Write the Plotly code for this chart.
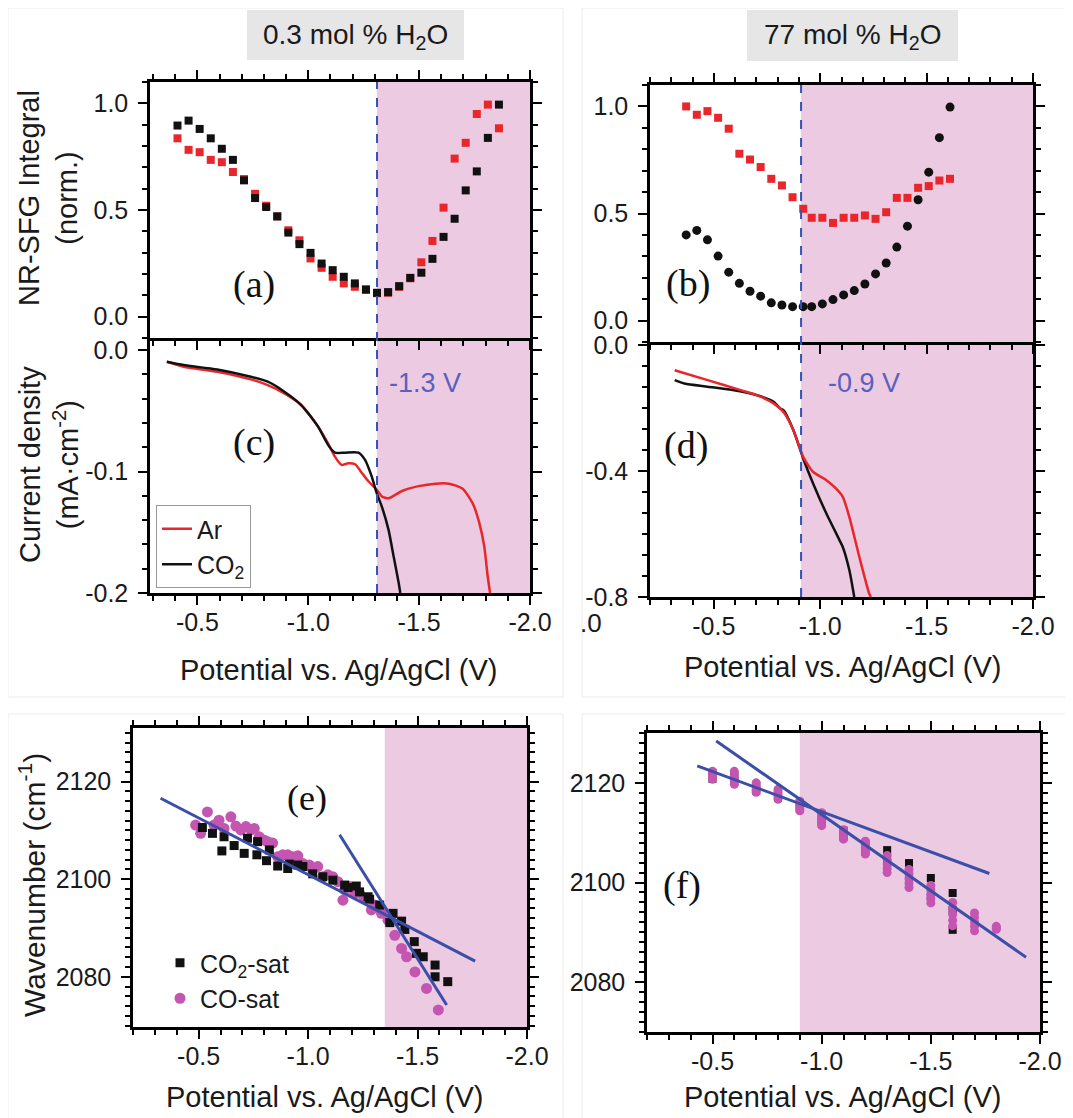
import plotly.graph_objects as go

W, H = 1073, 1118
OFF = 8  # page body margin offset
FONT = "Liberation Sans, Arial, sans-serif"
SERIF = "Liberation Serif, Times New Roman, serif"
RED = "#e8262b"
BLACK = "#111111"
MAG = "#c455b0"
BLUE = "#3b4ea8"
PINK = "rgb(236,202,225)"
DASH = "#3553b5"
VTXT = "#5a60c0"

# ---------------- data ----------------
# (a) 0.3 mol% H2O, NR-SFG integral
a_x = [-0.41, -0.46, -0.51, -0.56, -0.61, -0.66, -0.71, -0.76, -0.81, -0.86,
       -0.91, -0.96, -1.01, -1.06, -1.11, -1.16, -1.21, -1.26, -1.31, -1.36,
       -1.41, -1.46, -1.51, -1.56, -1.61, -1.66, -1.71, -1.76, -1.81, -1.86]
a_co2 = [0.896, 0.919, 0.880, 0.836, 0.787, 0.735, 0.639, 0.556, 0.514, 0.470,
         0.394, 0.340, 0.299, 0.249, 0.218, 0.187, 0.156, 0.128, 0.112, 0.115,
         0.143, 0.182, 0.206, 0.271, 0.374, 0.459, 0.592, 0.681, 0.838, 0.994]
a_ar = [0.836, 0.782, 0.771, 0.735, 0.724, 0.678, 0.645, 0.576, 0.520, 0.470,
        0.405, 0.358, 0.273, 0.229, 0.187, 0.156, 0.140, 0.125, 0.110, 0.112,
        0.140, 0.180, 0.255, 0.355, 0.511, 0.741, 0.815, 0.950, 0.994, 0.883]

# (b) 77 mol% H2O, NR-SFG integral
b_x = [-0.37, -0.42, -0.47, -0.52, -0.57, -0.62, -0.67, -0.72, -0.77, -0.82,
       -0.87, -0.92, -0.96, -1.01, -1.06, -1.11, -1.16, -1.21, -1.26, -1.31,
       -1.36, -1.41, -1.46, -1.51, -1.56, -1.61]
b_ar = [1.000, 0.961, 0.978, 0.947, 0.896, 0.779, 0.752, 0.717, 0.662, 0.631,
        0.576, 0.522, 0.480, 0.480, 0.456, 0.480, 0.480, 0.491, 0.475, 0.506,
        0.573, 0.573, 0.620, 0.628, 0.654, 0.662]
b_co2 = [0.400, 0.421, 0.377, 0.301, 0.226, 0.174, 0.137, 0.114, 0.083, 0.073,
         0.065, 0.065, 0.065, 0.078, 0.098, 0.120, 0.140, 0.171, 0.218, 0.269,
         0.343, 0.441, 0.564, 0.693, 0.854, 0.997]

# (c) current density, 0.3 mol% H2O
c_ar_x = [-0.362, -0.438, -0.589, -0.741, -0.817, -0.892, -0.968, -1.044, -1.089,
          -1.120, -1.150, -1.180, -1.211, -1.241, -1.271, -1.309, -1.332, -1.362,
          -1.423, -1.498, -1.574, -1.635, -1.695, -1.741, -1.771, -1.794, -1.809, -1.820]
c_ar_y = [-0.0096, -0.0137, -0.0178, -0.0241, -0.0288, -0.0356, -0.0452, -0.063, -0.0767,
          -0.0877, -0.0945, -0.0932, -0.094, -0.101, -0.108, -0.115, -0.1205, -0.122,
          -0.116, -0.112, -0.110, -0.110, -0.114, -0.126, -0.142, -0.162, -0.186, -0.200]
c_co2_x = [-0.362, -0.438, -0.589, -0.741, -0.817, -0.892, -0.968, -1.044, -1.089,
           -1.120, -1.165, -1.226, -1.256, -1.286, -1.309, -1.332, -1.362, -1.385,
           -1.408, -1.415]
c_co2_y = [-0.0096, -0.0123, -0.0159, -0.0219, -0.026, -0.0342, -0.0452, -0.063, -0.078,
           -0.0844, -0.0844, -0.0844, -0.0904, -0.104, -0.118, -0.129, -0.148, -0.170,
           -0.192, -0.200]

# (d) current density, 77 mol% H2O
d_ar_x = [-0.316, -0.471, -0.626, -0.703, -0.781, -0.827, -0.874, -0.920, -0.967,
          -1.029, -1.075, -1.106, -1.137, -1.184, -1.230, -1.238]
d_ar_y = [-0.0795, -0.111, -0.143, -0.159, -0.185, -0.212, -0.270, -0.355, -0.403,
          -0.429, -0.456, -0.482, -0.546, -0.673, -0.789, -0.800]
d_co2_x = [-0.316, -0.362, -0.471, -0.595, -0.703, -0.781, -0.812, -0.828, -0.874,
           -0.920, -0.967, -1.029, -1.091, -1.106, -1.137, -1.160]
d_co2_y = [-0.111, -0.122, -0.132, -0.143, -0.159, -0.180, -0.201, -0.207, -0.270,
           -0.360, -0.440, -0.535, -0.620, -0.641, -0.715, -0.800]

# (e) wavenumber, 0.3 mol% H2O
e_co2_x = [-0.517, -0.563, -0.606, -0.616, -0.662, -0.708, -0.723, -0.766, -0.769,
           -0.810, -0.823, -0.861, -0.907, -0.914, -0.953, -0.976, -1.021, -1.067,
           -1.113, -1.167, -1.182, -1.220, -1.235, -1.274, -1.281, -1.327, -1.373,
           -1.388, -1.427, -1.442, -1.485, -1.495, -1.526, -1.580, -1.580, -1.638]
e_co2_y = [2110.6, 2109.4, 2105.8, 2108.7, 2106.9, 2105.3, 2108.4, 2105.0, 2107.7,
           2103.8, 2106.0, 2102.7, 2102.2, 2103.1, 2102.9, 2102.6, 2101.1, 2100.5,
           2099.8, 2098.8, 2098.3, 2098.6, 2097.4, 2096.4, 2095.9, 2094.7, 2091.1,
           2093.0, 2091.4, 2089.7, 2087.2, 2084.8, 2084.1, 2082.4, 2080.0, 2079.0]
e_co_x = [-0.486, -0.509, -0.540, -0.570, -0.593, -0.616, -0.647, -0.670, -0.693,
          -0.716, -0.739, -0.754, -0.777, -0.800, -0.815, -0.838, -0.861, -0.884,
          -0.907, -0.930, -0.953, -0.976, -1.006, -1.021, -1.044, -1.067, -1.090,
          -1.113, -1.136, -1.159, -1.167, -1.190, -1.213, -1.235, -1.258, -1.289,
          -1.304, -1.335, -1.365, -1.396, -1.427, -1.450, -1.488, -1.541, -1.595]
e_co_y = [2111.1, 2109.4, 2113.8, 2111.1, 2112.1, 2110.4, 2112.8, 2110.9, 2110.1,
          2110.8, 2110.1, 2110.4, 2108.7, 2108.0, 2107.7, 2107.4, 2104.6, 2105.0,
          2105.0, 2104.6, 2104.8, 2103.2, 2102.9, 2101.9, 2102.6, 2100.5, 2100.9,
          2100.5, 2099.5, 2095.7, 2097.8, 2098.5, 2097.1, 2097.1, 2096.1, 2093.7,
          2094.7, 2093.0, 2091.6, 2088.5, 2085.8, 2084.1, 2081.0, 2077.6, 2073.2]
e_fit1_x = [-0.326, -1.763]
e_fit1_y = [2116.6, 2083.2]
e_fit2_x = [-1.144, -1.633]
e_fit2_y = [2109.1, 2074.2]

# (f) wavenumber, 77 mol% H2O
f_co2_x = [-0.5, -0.5, -0.6, -0.6, -0.7, -0.7, -0.8, -0.8, -0.9, -0.9, -1.0, -1.0,
           -1.1, -1.1, -1.2, -1.2, -1.3, -1.3, -1.4, -1.4, -1.5, -1.5, -1.6, -1.6, -1.6]
f_co2_y = [2122.0, 2120.8, 2121.4, 2120.2, 2119.6, 2118.4, 2118.2, 2117.0, 2116.0, 2114.8,
           2113.6, 2112.2, 2110.4, 2109.2, 2107.8, 2106.2, 2106.5, 2103.9, 2103.9, 2100.5,
           2100.9, 2097.1, 2097.9, 2094.5, 2090.5]
f_co_x = [-0.5, -0.5, -0.5, -0.5, -0.5,
          -0.6, -0.6, -0.6, -0.6, -0.6,
          -0.7, -0.7, -0.7, -0.7, -0.7,
          -0.8, -0.8, -0.8, -0.8, -0.8,
          -0.9, -0.9, -0.9, -0.9, -0.9,
          -1.0, -1.0, -1.0, -1.0, -1.0,
          -1.1, -1.1, -1.1, -1.1, -1.1,
          -1.2, -1.2, -1.2, -1.2, -1.2,
          -1.3, -1.3, -1.3, -1.3, -1.3,
          -1.4, -1.4, -1.4, -1.4, -1.4,
          -1.5, -1.5, -1.5, -1.5, -1.5,
          -1.6, -1.6, -1.6, -1.6, -1.6,
          -1.7, -1.7, -1.7, -1.7, -1.7,
          -1.8, -1.8, -1.8]
f_co_y = [2122.3, 2121.9, 2121.5, 2121.1, 2120.7,
          2122.3, 2121.6, 2121.0, 2120.4, 2119.7,
          2120.0, 2119.5, 2119.0, 2118.5, 2118.1,
          2118.7, 2118.2, 2117.7, 2117.2, 2116.7,
          2116.3, 2115.8, 2115.3, 2114.8, 2114.4,
          2114.0, 2113.3, 2112.7, 2112.0, 2111.4,
          2110.6, 2110.1, 2109.6, 2109.1, 2108.7,
          2108.3, 2107.6, 2107.0, 2106.3, 2105.7,
          2105.4, 2104.6, 2103.7, 2102.8, 2102.0,
          2102.6, 2101.7, 2100.8, 2099.9, 2099.0,
          2099.4, 2098.5, 2097.6, 2096.8, 2095.9,
          2096.0, 2094.8, 2093.6, 2092.4, 2091.3,
          2093.9, 2093.0, 2092.1, 2091.2, 2090.3,
          2091.2, 2090.9, 2090.6]
f_fit1_x = [-0.430, -1.768]
f_fit1_y = [2123.4, 2101.8]
f_fit2_x = [-0.517, -1.936]
f_fit2_y = [2128.4, 2085.0]

x_ticks = [-0.5, -1.0, -1.5, -2.0]
x_ticktext = ["-0.5", "-1.0", "-1.5", "-2.0"]
sfg_ticks = [0.0, 0.5, 1.0]
sfg_ticktext = ["0.0", "0.5", "1.0"]
c_ticks = [0.0, -0.1, -0.2]
c_ticktext = ["0.0", "-0.1", "-0.2"]
d_ticks = [0.0, -0.4, -0.8]
d_ticktext = ["0.0", "-0.4", "-0.8"]
wn_ticks = [2080, 2100, 2120]
wn_ticktext = ["2080", "2100", "2120"]

onset_left = -1.31
onset_right = -0.91
onset_e = -1.35
onset_f = -0.9


def px(x):
    return (x - OFF) / W


def py(y):
    return 1 - (y - OFF) / H


fig = go.Figure()

# (a)
fig.add_trace(go.Scatter(x=a_x, y=a_ar, mode="markers", xaxis="x", yaxis="y",
                         marker=dict(symbol="square", size=8, color=RED), showlegend=False))
fig.add_trace(go.Scatter(x=a_x, y=a_co2, mode="markers", xaxis="x", yaxis="y",
                         marker=dict(symbol="square", size=8, color=BLACK), showlegend=False))
# (c)
fig.add_trace(go.Scatter(x=c_ar_x, y=c_ar_y, mode="lines", xaxis="x2", yaxis="y2",
                         line=dict(color=RED, width=2.5, shape="spline", smoothing=0.6),
                         name="Ar", legend="legend"))
fig.add_trace(go.Scatter(x=c_co2_x, y=c_co2_y, mode="lines", xaxis="x2", yaxis="y2",
                         line=dict(color=BLACK, width=2.5, shape="spline", smoothing=0.6),
                         name="CO<sub>2</sub>", legend="legend"))
# (b)
fig.add_trace(go.Scatter(x=b_x, y=b_ar, mode="markers", xaxis="x3", yaxis="y3",
                         marker=dict(symbol="square", size=8, color=RED), showlegend=False))
fig.add_trace(go.Scatter(x=b_x, y=b_co2, mode="markers", xaxis="x3", yaxis="y3",
                         marker=dict(symbol="circle", size=9, color=BLACK), showlegend=False))
# (d)
fig.add_trace(go.Scatter(x=d_co2_x, y=d_co2_y, mode="lines", xaxis="x4", yaxis="y4",
                         line=dict(color=BLACK, width=2.5, shape="spline", smoothing=0.6),
                         showlegend=False))
fig.add_trace(go.Scatter(x=d_ar_x, y=d_ar_y, mode="lines", xaxis="x4", yaxis="y4",
                         line=dict(color=RED, width=2.5, shape="spline", smoothing=0.6),
                         showlegend=False))
# (e)
fig.add_trace(go.Scatter(x=e_co_x, y=e_co_y, mode="markers", xaxis="x5", yaxis="y5",
                         marker=dict(symbol="circle", size=11, color=MAG),
                         name="CO-sat", legend="legend2", legendrank=2))
fig.add_trace(go.Scatter(x=e_co2_x, y=e_co2_y, mode="markers", xaxis="x5", yaxis="y5",
                         marker=dict(symbol="square", size=9, color=BLACK),
                         name="CO<sub>2</sub>-sat", legend="legend2", legendrank=1))
fig.add_trace(go.Scatter(x=e_fit1_x, y=e_fit1_y, mode="lines", xaxis="x5", yaxis="y5",
                         line=dict(color=BLUE, width=3), showlegend=False))
fig.add_trace(go.Scatter(x=e_fit2_x, y=e_fit2_y, mode="lines", xaxis="x5", yaxis="y5",
                         line=dict(color=BLUE, width=3), showlegend=False))
# (f)
fig.add_trace(go.Scatter(x=f_co2_x, y=f_co2_y, mode="markers", xaxis="x6", yaxis="y6",
                         marker=dict(symbol="square", size=8, color=BLACK), showlegend=False))
fig.add_trace(go.Scatter(x=f_co_x, y=f_co_y, mode="markers", xaxis="x6", yaxis="y6",
                         marker=dict(symbol="circle", size=9, color=MAG), showlegend=False))
fig.add_trace(go.Scatter(x=f_fit1_x, y=f_fit1_y, mode="lines", xaxis="x6", yaxis="y6",
                         line=dict(color=BLUE, width=3), showlegend=False))
fig.add_trace(go.Scatter(x=f_fit2_x, y=f_fit2_y, mode="lines", xaxis="x6", yaxis="y6",
                         line=dict(color=BLUE, width=3), showlegend=False))


def axis(domain, anchor, rng, tickvals, ticktext, minor_dtick, labels=True,
         mirror="ticks", side=None, standoff=-4):
    d = dict(domain=domain, anchor=anchor, range=rng, tickmode="array",
             tickvals=tickvals, ticktext=ticktext, showticklabels=labels,
             showline=True, linecolor="black", linewidth=2.5, mirror=mirror,
             ticks="outside", ticklen=9, tickwidth=2, tickcolor="black",
             showgrid=False, zeroline=False, ticklabelstandoff=standoff, automargin=False,
             tickfont=dict(size=25, family=FONT, color="#1a1a1a"),
             minor=dict(ticks="outside", ticklen=5, tickwidth=1.5, tickcolor="black",
                        dtick=minor_dtick, tick0=0, showgrid=False))
    if side:
        d["side"] = side
    return d


xa = [px(150), px(530)]
xb = [px(650), px(1033)]
xe = [px(133), px(527)]
xf = [px(647), px(1040)]
YS = 5  # y tick label standoff

layout = dict(
    width=W, height=H, margin=dict(l=0, r=0, t=0, b=0, autoexpand=False),
    paper_bgcolor="white", plot_bgcolor="white",
    font=dict(family=FONT, color="#1a1a1a"),
    # upper panels: bottom axis line with ticks pointing down into the lower panel
    xaxis=axis(xa, "y", [-0.286, -2.0], x_ticks, x_ticktext, 0.1, labels=False),
    yaxis=axis([py(338), py(82)], "x", [-0.1, 1.1], sfg_ticks, sfg_ticktext, 0.1,
               standoff=YS),
    xaxis2=axis(xa, "y2", [-0.286, -2.0], x_ticks, x_ticktext, 0.1, mirror=False),
    yaxis2=axis([py(593), py(338)], "x2", [-0.2, 0.01], c_ticks, c_ticktext, 0.02,
                standoff=YS),
    xaxis3=axis(xb, "y3", [-0.2, -2.0], x_ticks, x_ticktext, 0.1, labels=False),
    yaxis3=axis([py(342), py(85)], "x3", [-0.1, 1.1], sfg_ticks, sfg_ticktext, 0.1,
                standoff=YS),
    xaxis4=axis(xb, "y4", [-0.2, -2.0], x_ticks, x_ticktext, 0.1, mirror=False),
    yaxis4=axis([py(597), py(342)], "x4", [-0.8, 0.01], d_ticks, d_ticktext, 0.4 / 6,
                standoff=YS),
    xaxis5=axis(xe, "y5", [-0.2, -2.0], x_ticks, x_ticktext, 0.1),
    yaxis5=axis([py(1027), py(728)], "x5", [2069.7, 2131], wn_ticks, wn_ticktext, 2,
                standoff=YS),
    xaxis6=axis(xf, "y6", [-0.2, -2.0], x_ticks, x_ticktext, 0.1),
    yaxis6=axis([py(1032), py(733)], "x6", [2070, 2130], wn_ticks, wn_ticktext, 2,
                standoff=YS),
    legend=dict(x=px(156), y=py(505), xanchor="left", yanchor="top",
                bordercolor="#999999", borderwidth=1, bgcolor="white",
                font=dict(size=25, family=FONT, color="#1a1a1a"), tracegroupgap=0),
    legend2=dict(x=px(160), y=py(940), xanchor="left", yanchor="top",
                 bgcolor="rgba(0,0,0,0)", borderwidth=0,
                 font=dict(size=25, family=FONT, color="#1a1a1a")),
)

shapes = []
# faint frames of the composed panels
frame = dict(type="rect", xref="paper", yref="paper", line=dict(color="#ececec", width=1),
             fillcolor="rgba(0,0,0,0)", layer="below")
shapes.append({**frame, "x0": px(8), "x1": px(563), "y0": py(697), "y1": py(8)})
shapes.append({**frame, "x0": px(582), "x1": px(1080), "y0": py(697), "y1": py(8)})
shapes.append({**frame, "x0": px(8), "x1": px(563), "y0": py(1125), "y1": py(714)})
shapes.append({**frame, "x0": px(582), "x1": px(1080), "y0": py(1125), "y1": py(714)})
# header boxes
shapes.append(dict(type="rect", xref="paper", yref="paper", x0=px(247), x1=px(464),
                   y0=py(60), y1=py(10), fillcolor="#e6e6e6", line=dict(width=0), layer="below"))
shapes.append(dict(type="rect", xref="paper", yref="paper", x0=px(747), x1=px(958),
                   y0=py(61), y1=py(10), fillcolor="#e6e6e6", line=dict(width=0), layer="below"))
# pink regions
for xr, yr, x0 in [("x", "y", onset_left), ("x2", "y2", onset_left),
                   ("x3", "y3", onset_right), ("x4", "y4", onset_right),
                   ("x5", "y5", onset_e), ("x6", "y6", onset_f)]:
    shapes.append(dict(type="rect", xref=xr, yref=yr + " domain", x0=x0, x1=-2.0,
                       y0=0, y1=1, fillcolor=PINK, line=dict(width=0), layer="below"))
# dashed onset lines
shapes.append(dict(type="line", xref="x", yref="paper", x0=onset_left, x1=onset_left,
                   y0=py(593), y1=py(82), line=dict(color=DASH, width=2, dash="dash")))
shapes.append(dict(type="line", xref="x3", yref="paper", x0=onset_right, x1=onset_right,
                   y0=py(597), y1=py(85), line=dict(color=DASH, width=2, dash="dash")))
layout["shapes"] = shapes

ann = []


def text(x, y, t, size=25, family=FONT, color="#1a1a1a", angle=0):
    ann.append(dict(x=px(x), y=py(y), xref="paper", yref="paper", text=t, showarrow=False,
                    xanchor="center", yanchor="middle", textangle=angle,
                    font=dict(size=size, family=family, color=color)))


text(355, 36, "0.3 mol % H<sub>2</sub>O", size=28)
text(852, 36, "77 mol % H<sub>2</sub>O", size=28)
text(254, 284, "(a)", size=38, family=SERIF, color="#111")
text(688, 283, "(b)", size=38, family=SERIF, color="#111")
text(254, 443, "(c)", size=38, family=SERIF, color="#111")
text(686, 445, "(d)", size=38, family=SERIF, color="#111")
text(307, 798, "(e)", size=36, family=SERIF, color="#111")
text(682, 885, "(f)", size=38, family=SERIF, color="#111")
text(425, 383, "-1.3 V", size=27, color=VTXT)
text(864, 383, "-0.9 V", size=27, color=VTXT)
text(48, 198, "NR-SFG Integral<br>(norm.)", size=29, angle=-90)
text(49, 465, "Current density<br>(mA·cm<sup>-2</sup>)", size=29, angle=-90)
text(32, 885, "Wavenumber (cm<sup>-1</sup>)", size=30, angle=-90)
text(339, 670, "Potential vs. Ag/AgCl (V)", size=29)
text(843, 667, "Potential vs. Ag/AgCl (V)", size=29)
text(325, 1097, "Potential vs. Ag/AgCl (V)", size=29)
text(843, 1097, "Potential vs. Ag/AgCl (V)", size=29)
text(591, 623, ".0", size=26)
layout["annotations"] = ann

fig.update_layout(**layout)
fig.write_html("out.html")
